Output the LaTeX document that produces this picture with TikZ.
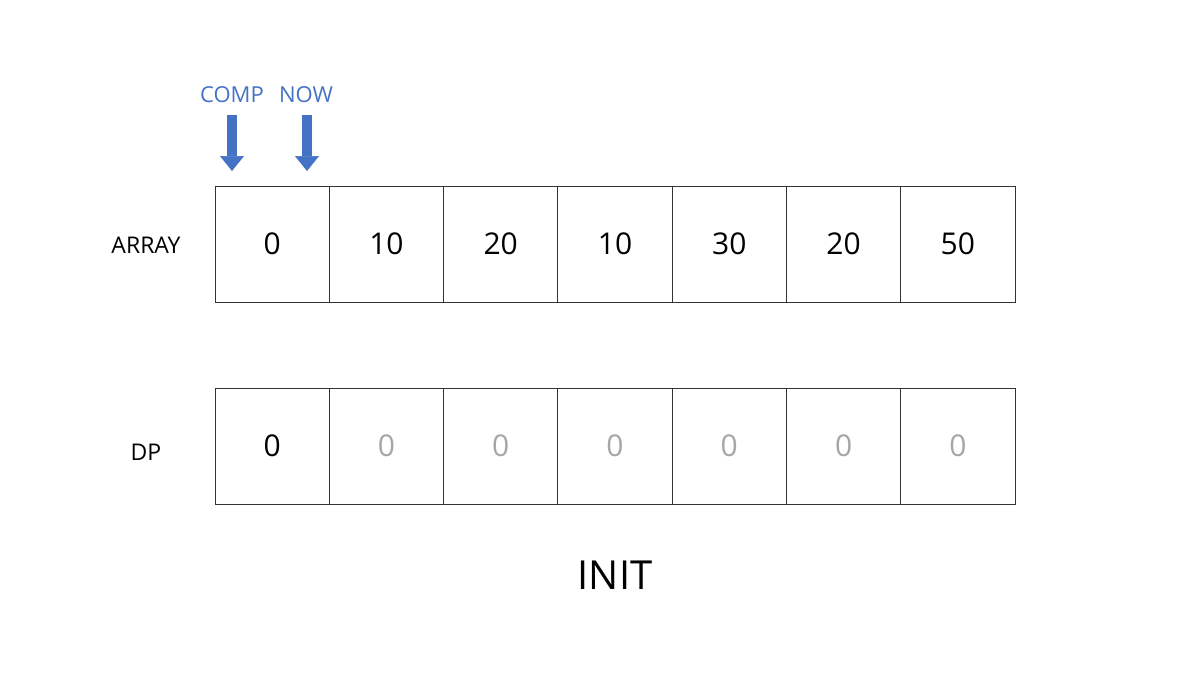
\documentclass[tikz,border=0pt]{standalone}
\usepackage{fontspec}
\setmainfont{Open Sans}
\usetikzlibrary{arrows.meta}
\definecolor{ptrblue}{HTML}{4472C4}
\definecolor{zerogray}{HTML}{A6A6A6}
\begin{document}
\begin{tikzpicture}[x=0.5pt,y=-0.5pt,
    cell/.style={draw=black!80, line width=0.45pt, minimum width=57.14pt, minimum height=58pt, inner sep=0pt, font=\fontsize{15}{18}\selectfont},
    rowlabel/.style={font=\fontsize{11.5}{14}\selectfont},
    ptr/.style={text=ptrblue, font=\fontsize{11}{13}\selectfont},
    ptrarrow/.style={draw=ptrblue, line width=5pt, -{Triangle[length=7.5pt,width=12pt,line width=0.3pt]}}]
    \useasboundingbox (0,0) rectangle (1200,675);

    % array row
    \foreach \v [count=\i] in {0,10,20,10,30,20,50}
      \node[cell] (a\i) at ({215+114.29*(\i-0.5)},244) {\v};
    % dp row
    \node[cell] (d1) at ({215+114.29*0.5},446) {0};
    \foreach \i in {2,...,7}
      \node[cell, text=zerogray] (d\i) at ({215+114.29*(\i-0.5)},446) {0};

    \node[rowlabel] (arrlabel) at (146,245) {ARRAY};
    \node[rowlabel] (dplabel) at (146,452) {DP};

    % pointers
    \node[ptr] (comp) at (232,95) {COMP};
    \node[ptr] (now) at (306,95) {NOW};
    \coordinate (compTip) at (232,171);
    \coordinate (nowTip) at (307,171);
    \draw[ptrarrow] ([yshift=-10pt]comp.center) -- (compTip);
    \draw[ptrarrow] ([yshift=-10pt,xshift=0.5pt]now.center) -- (nowTip);

    \node[font=\fontsize{20}{24}\selectfont] (title) at (615,575) {INIT};
\end{tikzpicture}
\end{document}
